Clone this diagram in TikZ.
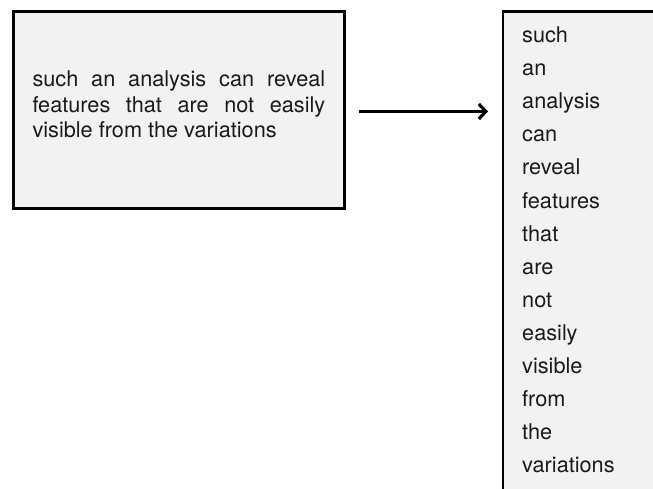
\documentclass[tikz,border=0pt]{standalone}
\usepackage{fontspec}
\setmainfont{TeX Gyre Heros}
\usetikzlibrary{arrows.meta}

\definecolor{boxfill}{HTML}{F2F2F2}
\definecolor{inktext}{HTML}{1A1A1A}

\tikzset{
  panel/.style={draw=black, line width=2.7pt, fill=boxfill, inner sep=0pt,
    outer sep=0pt, anchor=north west},
  bodytext/.style={inner sep=0pt, anchor=base west, text=inktext,
    font=\fontsize{21.7}{25.5}\selectfont},
  wordtext/.style={bodytext},
  flow/.style={line width=3.4pt, -{Straight Barb[length=7pt, width=15pt, line width=3.2pt]}}
}

\begin{document}
\begin{tikzpicture}[x=1pt, y=1pt]
  \useasboundingbox (0,0) rectangle (653,-489);
  \clip (0,0) rectangle (653,-489);

  % sentence box
  \node[panel, minimum width=330.9pt, minimum height=197.4pt] (lbox) at (13.3,-11.3) {};
  \node[bodytext] (l1) at (32.3,-87) {\makebox[292.7pt][s]{such an analysis can reveal}};
  \node[bodytext] (l2) at (32.3,-112.5) {\makebox[292.7pt][s]{features that are not easily}};
  \node[bodytext] (l3) at (32.3,-138) {visible from the variations};

  % token column (runs past the page edges)
  \node[panel, minimum width=220pt, minimum height=520pt] (rbox) at (503,-11.3) {};
  \foreach \w [count=\i from 0] in {such,an,analysis,can,reveal,features,that,are,not,easily,visible,from,the,variations}
    \node[wordtext] (w\i) at (522,{-43-33*\i}) {\w};

  % tokenisation arrow
  \draw[flow, shorten <=15pt, shorten >=15pt] (lbox.east |- 0,-111.5) -- (rbox.west |- 0,-111.5);
\end{tikzpicture}
\end{document}
